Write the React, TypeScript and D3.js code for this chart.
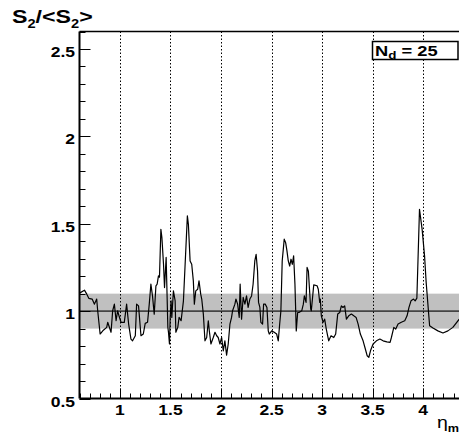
import React from "react";
import * as d3 from "d3";

// eta positions of the S2/<S2> curve
const etaValues = [
  0.600, 0.649, 0.672, 0.692, 0.725, 0.748, 0.770, 0.780, 0.804, 0.836,
  0.869, 0.879, 0.912, 0.928, 0.945, 0.962, 0.977, 0.994, 1.011, 1.043,
  1.066, 1.086, 1.109, 1.125, 1.152, 1.165, 1.184, 1.208, 1.231, 1.250,
  1.273, 1.290, 1.306, 1.322, 1.339, 1.356, 1.368, 1.381, 1.391, 1.405,
  1.415, 1.431, 1.441, 1.457, 1.474, 1.480, 1.490, 1.497, 1.506, 1.513,
  1.529, 1.546, 1.553, 1.572, 1.585, 1.605, 1.628, 1.644, 1.667, 1.677,
  1.694, 1.710, 1.726, 1.736, 1.750, 1.769, 1.782, 1.799, 1.809, 1.825,
  1.841, 1.858, 1.874, 1.884, 1.900, 1.923, 1.940, 1.957, 1.972, 1.989,
  2.006, 2.022, 2.038, 2.055, 2.071, 2.088, 2.104, 2.114, 2.137, 2.147,
  2.164, 2.180, 2.189, 2.203, 2.219, 2.236, 2.252, 2.268, 2.285, 2.302,
  2.317, 2.334, 2.347, 2.361, 2.371, 2.384, 2.394, 2.411, 2.421, 2.437,
  2.454, 2.467, 2.477, 2.501, 2.526, 2.550, 2.566, 2.580, 2.592, 2.605,
  2.625, 2.639, 2.652, 2.665, 2.679, 2.692, 2.705, 2.718, 2.731, 2.744,
  2.758, 2.771, 2.798, 2.814, 2.824, 2.841, 2.851, 2.864, 2.887, 2.893,
  2.917, 2.950, 2.962, 2.976, 2.982, 2.992, 3.009, 3.025, 3.041, 3.065,
  3.088, 3.115, 3.134, 3.154, 3.174, 3.190, 3.206, 3.223, 3.240, 3.263,
  3.289, 3.313, 3.336, 3.356, 3.378, 3.405, 3.428, 3.445, 3.462, 3.478,
  3.504, 3.537, 3.571, 3.603, 3.640, 3.672, 3.685, 3.709, 3.728, 3.751,
  3.783, 3.817, 3.840, 3.859, 3.879, 3.904, 3.920, 3.937, 3.963, 3.989,
  4.013, 4.029, 4.063, 4.096, 4.145, 4.195, 4.244, 4.293, 4.356,
];

// S2/<S2> values
const ratioValues = [
  1.103, 1.120, 1.097, 1.073, 1.069, 1.040, 1.069, 1.002, 0.869, 0.891,
  0.907, 0.936, 0.879, 1.002, 1.040, 0.945, 1.002, 0.966, 0.936, 0.936,
  1.040, 0.926, 0.840, 0.830, 0.859, 1.040, 1.030, 0.859, 0.869, 0.930,
  0.936, 1.040, 1.154, 1.087, 0.983, 1.145, 1.154, 1.202, 1.194, 1.468,
  1.421, 1.268, 1.135, 1.307, 0.907, 0.879, 0.812, 0.964, 1.059, 0.964,
  1.116, 1.059, 0.879, 0.907, 0.964, 0.945, 1.059, 1.258, 1.545, 1.497,
  1.287, 1.268, 1.173, 1.040, 1.116, 1.125, 1.173, 1.097, 1.069, 0.983,
  0.830, 0.849, 0.945, 0.887, 0.812, 0.849, 0.879, 0.859, 0.849, 0.812,
  0.849, 0.773, 0.830, 0.748, 0.812, 0.926, 0.964, 1.002, 1.040, 1.069,
  1.040, 0.964, 1.154, 0.954, 1.079, 1.040, 1.087, 1.021, 1.069, 1.087,
  1.154, 1.287, 1.325, 1.230, 1.050, 1.021, 0.936, 0.926, 1.040, 1.040,
  1.021, 0.887, 0.869, 0.887, 0.879, 0.869, 0.830, 0.926, 1.002, 1.287,
  1.412, 1.392, 1.345, 1.287, 1.258, 1.297, 1.268, 1.316, 1.154, 0.887,
  0.992, 0.992, 1.002, 1.040, 1.087, 1.050, 1.250, 1.228, 1.012, 1.002,
  1.150, 1.145, 1.125, 1.050, 1.069, 0.973, 0.936, 0.954, 0.897, 0.830,
  0.859, 0.849, 0.869, 0.983, 0.992, 1.030, 1.021, 1.030, 0.954, 0.973,
  0.983, 0.973, 0.964, 0.926, 0.869, 0.830, 0.782, 0.745, 0.736, 0.773,
  0.812, 0.830, 0.840, 0.830, 0.824, 0.821, 0.849, 0.907, 0.897, 0.926,
  0.936, 0.945, 0.973, 1.021, 1.059, 1.069, 1.059, 1.074, 1.583, 1.468,
  1.316, 1.164, 0.916, 0.903, 0.887, 0.875, 0.887, 0.907, 0.954,
];

const xMajorTicks = [1, 1.5, 2, 2.5, 3, 3.5, 4];
const xTickLabels = ["1", "1.5", "2", "2.5", "3", "3.5", "4"];
const yMajorTicks = [0.5, 1, 1.5, 2, 2.5];
const yTickLabels = ["0.5", "1", "1.5", "2", "2.5"];
const bandRange = [0.9, 1.1];
const referenceLevel = 1;
const legendMain = "N";
const legendSub = "d";
const legendRest = " = 25";

const FONT = "'Liberation Sans', Arial, Helvetica, sans-serif";
const SX = 1.25;

export default function App() {
  const W = 459;
  const H = 437;
  const left = 79.5;
  const top = 31.5;
  const bottom = 398.5;
  const x = d3.scaleLinear().domain([0.6, 4.4]).range([left, left + 3.8 * 101.1]);
  const y = d3.scaleLinear().domain([0.5, 2.6]).range([bottom, top]);
  const right = x(4.4);

  const pts = etaValues.map((e, i) => [e, ratioValues[i]] as [number, number]);
  const line = d3
    .line<[number, number]>()
    .x((d) => x(d[0]))
    .y((d) => y(d[1]));

  const xMinor = d3.range(6, 44).map((v) => v / 10);
  const yMinor = d3.range(5, 27).map((v) => v / 10);

  return (
    <svg
      width={W}
      height={H}
      style={{ position: "absolute", left: 0, top: 0, background: "#fff" }}
    >
      <rect x={0} y={0} width={W} height={H} fill="#fff" />
      {/* band */}
      <rect
        x={left}
        y={y(bandRange[1])}
        width={right - left}
        height={y(bandRange[0]) - y(bandRange[1])}
        fill="#c0c0c0"
      />
      <line
        x1={left}
        x2={right}
        y1={y(referenceLevel)}
        y2={y(referenceLevel)}
        stroke="#444"
        strokeWidth={1.6}
      />
      {/* dotted grid */}
      {xMajorTicks.map((t) => (
        <line
          key={"g" + t}
          x1={Math.round(x(t)) + 0.5}
          x2={Math.round(x(t)) + 0.5}
          y1={top}
          y2={bottom}
          stroke="#000"
          strokeWidth={1}
          strokeDasharray="1.5,2"
        />
      ))}
      {/* curve */}
      <path d={line(pts) || ""} fill="none" stroke="#000" strokeWidth={1.2} strokeLinejoin="round" />
      {/* frame */}
      <line x1={left} x2={right} y1={top} y2={top} stroke="#000" strokeWidth={1.5} />
      <line x1={right} x2={right} y1={top} y2={bottom} stroke="#000" strokeWidth={1.5} />
      <line x1={left} x2={left} y1={top} y2={bottom} stroke="#000" strokeWidth={2} />
      <line x1={left} x2={right} y1={bottom} y2={bottom} stroke="#000" strokeWidth={2} />
      {/* x ticks */}
      {xMinor.map((t) => {
        const major = Math.abs(t * 2 - Math.round(t * 2)) < 1e-6;
        const px = Math.round(x(t)) + 0.5;
        return (
          <line key={"xt" + t} x1={px} x2={px} y1={bottom} y2={bottom - (major ? 10 : 5)} stroke="#000" strokeWidth={1} />
        );
      })}
      {/* y ticks */}
      {yMinor.map((t) => {
        const major = Math.abs(t * 2 - Math.round(t * 2)) < 1e-6;
        const py = Math.round(y(t)) + 0.5;
        return (
          <line key={"yt" + t} x1={left} x2={left + (major ? 11 : 6)} y1={py} y2={py} stroke="#000" strokeWidth={1} />
        );
      })}
      {/* x labels */}
      {xMajorTicks.map((t, i) => (
        <text
          key={"xl" + t}
          transform={`translate(${x(t)},415) scale(${SX},1)`}
          textAnchor="middle"
          fontFamily={FONT}
          fontWeight="bold"
          fontSize={14}
          fill="#000"
        >
          {xTickLabels[i]}
        </text>
      ))}
      {/* y labels */}
      {yMajorTicks.map((t, i) => (
        <text
          key={"yl" + t}
          transform={`translate(75,${y(t) + 8}) scale(${SX},1)`}
          textAnchor="end"
          fontFamily={FONT}
          fontWeight="bold"
          fontSize={14}
          fill="#000"
        >
          {yTickLabels[i]}
        </text>
      ))}
      {/* y title */}
      <text transform={`translate(12,22.5) scale(1.22,1)`} fontFamily={FONT} fontWeight="bold" fontSize={19} fill="#000">
        <tspan>S</tspan>
        <tspan fontSize={12} dy={5}>2</tspan>
        <tspan dy={-5}>/&lt;S</tspan>
        <tspan fontSize={12} dy={5}>2</tspan>
        <tspan dy={-5}>&gt;</tspan>
      </text>
      {/* x title */}
      <text transform={`translate(437,428) scale(1.15,1)`} fontFamily={FONT} fontSize={17} fill="#000">
        <tspan>η</tspan>
        <tspan fontSize={11} fontWeight="bold" dy={4}>m</tspan>
      </text>
      {/* legend */}
      <rect x={372.5} y={41.5} width={85.5} height={18} fill="#fff" stroke="#000" strokeWidth={1.5} />
      <text transform={`translate(375,56) scale(1.22,1)`} fontFamily={FONT} fontWeight="bold" fontSize={15} fill="#000">
        <tspan>{legendMain}</tspan>
        <tspan fontSize={11} dy={3}>{legendSub}</tspan>
        <tspan dy={-3}>{legendRest}</tspan>
      </text>
    </svg>
  );
}
